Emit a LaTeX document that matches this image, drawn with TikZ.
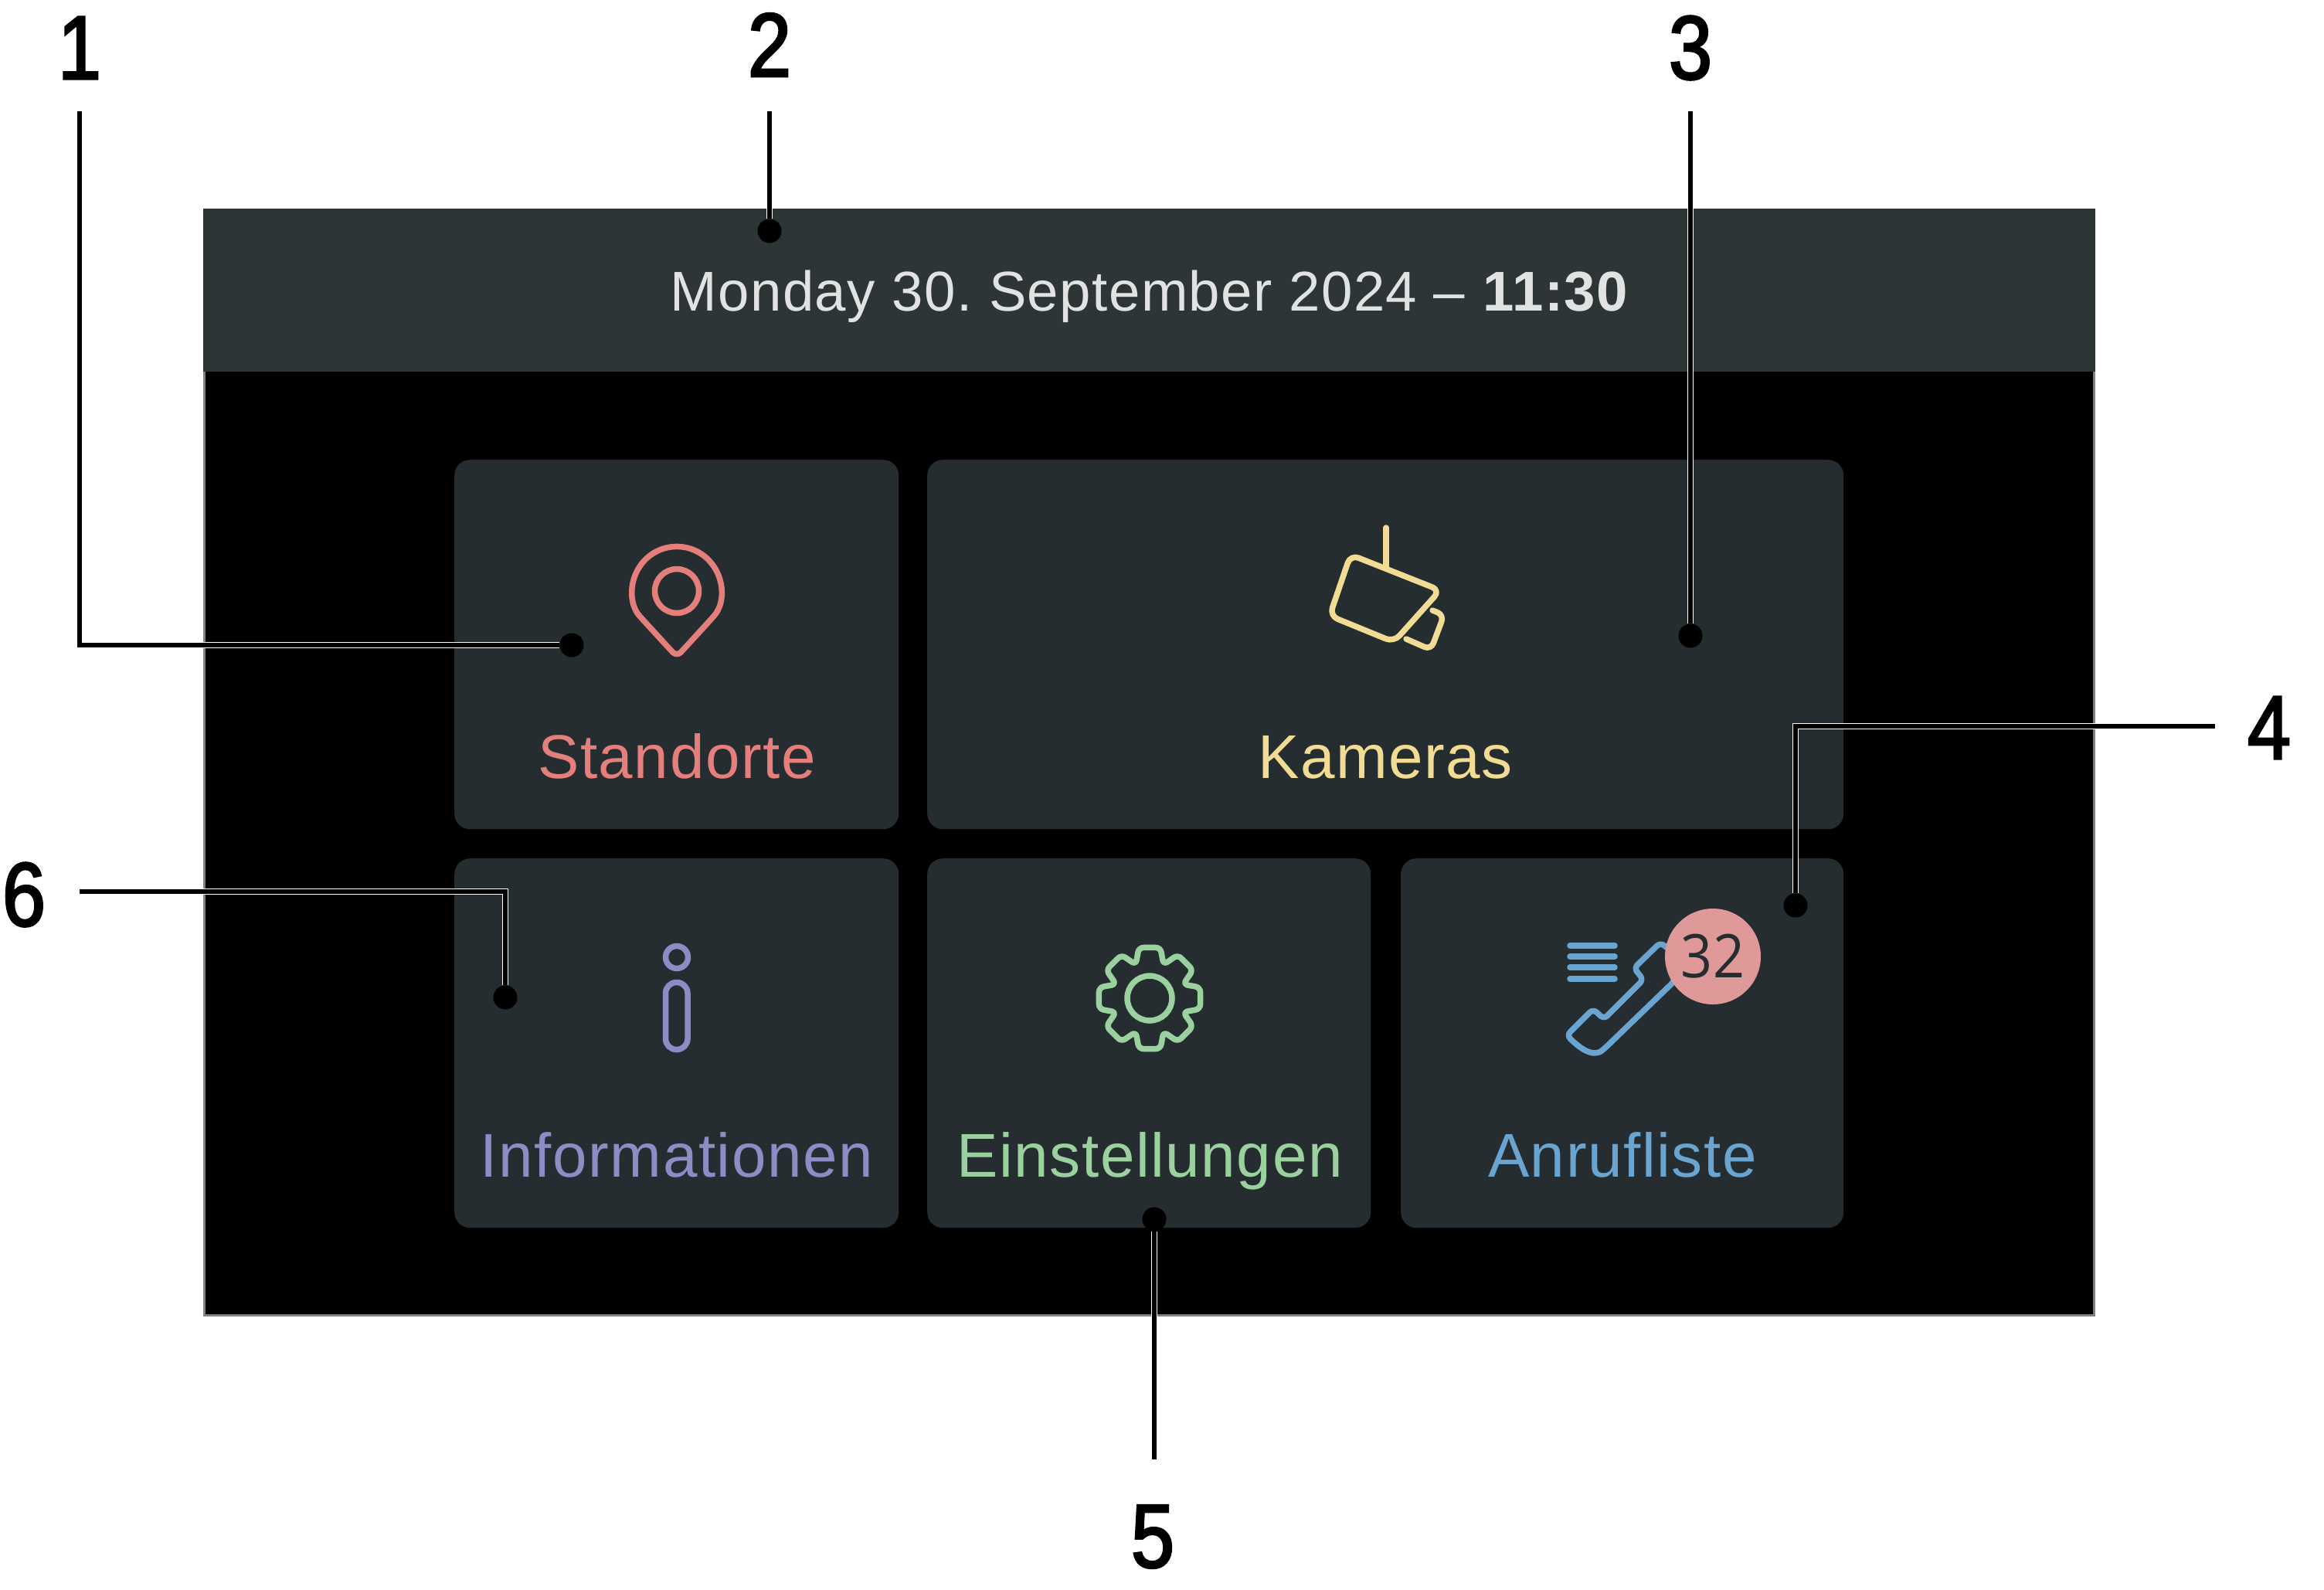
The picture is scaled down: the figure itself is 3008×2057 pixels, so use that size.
\documentclass[tikz,border=0pt]{standalone}
\usepackage{fontspec}
\usepackage{xcolor}
\setmainfont{Liberation Sans}
\frenchspacing
\newfontfamily\uifont[LetterSpace=2]{Liberation Sans}
\newfontfamily\numfont[FakeStretch=0.86,FakeBold=2.4]{Liberation Sans}
\newfontfamily\badgefont[FakeStretch=0.92]{Open Sans}
\usetikzlibrary{positioning}
\definecolor{tilegrey}{HTML}{252D30}
\definecolor{bargrey}{HTML}{2E3537}
\definecolor{bartext}{HTML}{E1E3E3}
\definecolor{pinred}{HTML}{E57F7B}
\definecolor{camyellow}{HTML}{F2DB93}
\definecolor{infoviolet}{HTML}{8F8BC4}
\definecolor{gearsgreen}{HTML}{9BD19F}
\definecolor{callblue}{HTML}{69A5D0}
\definecolor{badgepink}{HTML}{DF9999}
\tikzset{
  screenbox/.style={draw=black!50,line width=3pt,fill=black,anchor=north west,inner sep=0pt,minimum width=2446pt,minimum height=1431pt},
  barbox/.style={fill=bargrey,anchor=north west,inner sep=0pt,minimum width=2449pt,minimum height=211pt},
  tile/.style={fill=tilegrey,rounded corners=20pt,anchor=north west,inner sep=0pt,minimum height=478pt},
  tilename/.style={anchor=base,inner sep=0pt,font=\uifont\fontsize{80}{90}\selectfont},
  iconline/.style={line width=7.5pt,line cap=round,line join=round},
  callout/.style={inner sep=0pt,font=\numfont\fontsize{117}{120}\selectfont},
  leaderdot/.style={circle,fill=black,inner sep=0pt,minimum size=31pt},
  leader/.style={draw=black,line width=6pt,preaction={draw=white,line width=8pt}}
}
\begin{document}
\begin{tikzpicture}[x=1pt,y=-1pt]
  \useasboundingbox (0,0) rectangle (3008,2057);

  % screen
  \node[screenbox] (screen) at (263,270) {};
  \node[barbox] (bar) at (263,270) {};
  \node[anchor=base,inner sep=0pt,text=bartext,font=\uifont\fontsize{72.6}{90}\selectfont] (datetime) at (1488,402) {Monday 30. September 2024 – \textbf{11:30}};

  % tiles
  \node[tile,minimum width=575pt] (standorte) at (588,595) {};
  \node[tile,minimum width=1186pt] (kameras) at (1200,595) {};
  \node[tile,minimum width=575pt] (informationen) at (588,1111) {};
  \node[tile,minimum width=574pt] (einstellungen) at (1200,1111) {};
  \node[tile,minimum width=573pt] (anrufliste) at (1813,1111) {};

  \node[tilename,text=pinred] (standortename) at (876,1007) {Standorte};
  \node[tilename,text=camyellow] (kamerasname) at (1793,1007) {Kameras};
  \node[tilename,text=infoviolet] (infoname) at (876,1523) {Informationen};
  \node[tilename,text=gearsgreen] (gearname) at (1488,1523) {Einstellungen};
  \node[tilename,text=callblue] (callname) at (2100,1523) {Anrufliste};

  % pin
  \draw[iconline,pinred] (876,765) circle[radius=28.5];
  \draw[iconline,pinred,rounded corners=8pt] (919,803) arc[start angle=41.5,end angle=-221.5,radius=57.5] -- (876,850) -- cycle;

  % camera
  \draw[iconline,camyellow] (1794,683) -- (1794,735);
  \draw[iconline,camyellow,rounded corners=11pt] (1748,718) -- (1864,764) -- (1804,831) -- (1721,797) -- cycle;
  \draw[iconline,camyellow,rounded corners=9pt] (1854,790) -- (1869,796) -- (1852,841) -- (1820,827);

  % info
  \draw[iconline,infoviolet] (876,1239) circle[radius=14.5];
  \draw[iconline,infoviolet,rounded corners=14pt] (861.5,1271.5) rectangle (890,1358.5);

  % gear
  \begin{scope}[shift={(1488,1292)}]
    \draw[iconline,gearsgreen] (0,0) circle[radius=29];
    \draw[iconline,gearsgreen,rounded corners=6pt] (12:67pt)
      \foreach \a in {45,90,...,315} { -- (\a-22.5:47pt) -- (\a-12:67pt) -- (\a+12:67pt) }
      -- (337.5:47pt) -- (348:67pt) -- cycle;
  \end{scope}

  % phone
  \foreach \y in {1224,1238,1252,1267}
    \draw[iconline,callblue] (2032,\y) -- (2090,\y);
  \draw[iconline,callblue,rounded corners=6pt] (2175,1240) -- (2149,1220) -- (2115,1253) -- (2127,1268) -- (2076,1319) -- (2062,1306) -- (2028,1340)
    .. controls (2044,1356) and (2062,1370) .. (2079,1355) -- (2167,1270) -- cycle;
  \node[circle,fill=badgepink,inner sep=0pt,minimum size=124pt] (badge) at (2217,1238) {};
  \node[inner sep=0pt,text=tilegrey,font=\badgefont\fontsize{78}{80}\selectfont] (badgecount) at (badge) {32};

  % numbers
  \node[callout] (numone) at (103,62) {1};
  \node[callout] (numtwo) at (996,58) {2};
  \node[callout] (numthree) at (2188,62) {3};
  \node[callout] (numfour) at (2937,942) {4};
  \node[callout] (numfive) at (1492,1989) {5};
  \node[callout] (numsix) at (31,1158) {6};

  % leaders
  \node[leaderdot] (dotone) at (740,835) {};
  \node[leaderdot] (dottwo) at (996,299) {};
  \node[leaderdot] (dotthree) at (2188,823) {};
  \node[leaderdot] (dotfour) at (2324,1172) {};
  \node[leaderdot] (dotfive) at (1494,1578) {};
  \node[leaderdot] (dotsix) at (654,1291) {};
  \coordinate (startone) at (103,144);
  \coordinate (starttwo) at (996,144);
  \coordinate (startthree) at (2188,144);
  \coordinate (startfour) at (2867,940);
  \coordinate (startfive) at (1494,1889);
  \coordinate (startsix) at (103,1154);
  \path[leader] (startone) |- (dotone);
  \path[leader] (starttwo) -- (dottwo);
  \path[leader] (startthree) -- (dotthree);
  \path[leader] (startfour) -| (dotfour);
  \path[leader] (startfive) -- (dotfive);
  \path[leader] (startsix) -| (dotsix);
\end{tikzpicture}
\end{document}
